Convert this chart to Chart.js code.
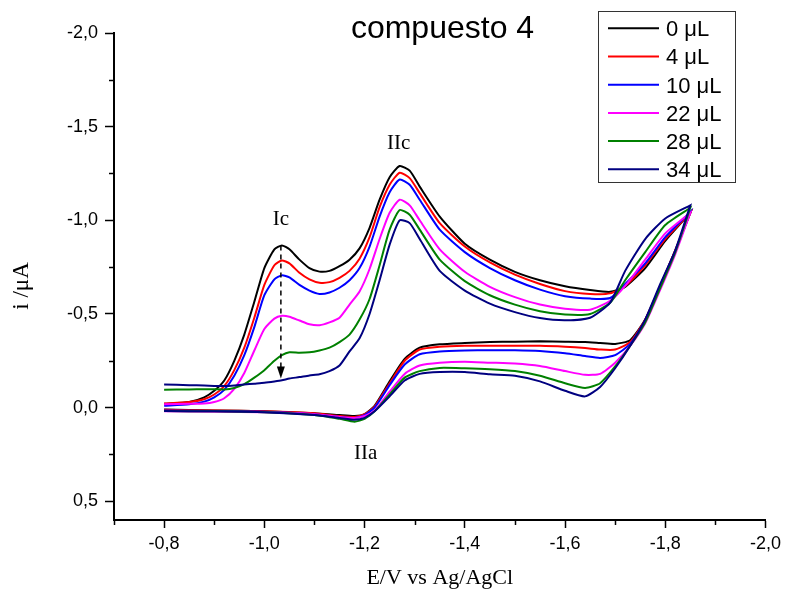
<!DOCTYPE html>
<html>
<head>
<meta charset="utf-8">
<script src="https://cdn.jsdelivr.net/npm/chart.js@4.4.1/dist/chart.umd.min.js"></script>
<style>
  html, body { margin: 0; padding: 0; background: #fff; }
  canvas { display: block; }
</style>
</head>
<body>
<canvas id="cvChart" width="786" height="593"></canvas>
<script>
// potentials (V) of the forward (cathodic) and reverse sweeps
const fwdE = [-0.80, -0.85, -0.88, -0.90, -0.92, -0.94, -0.96, -0.98, -1.00, -1.02, -1.035, -1.05, -1.07, -1.09, -1.11, -1.13, -1.15, -1.17, -1.19, -1.21, -1.23, -1.25, -1.27, -1.29, -1.31, -1.35, -1.40, -1.45, -1.50, -1.55, -1.60, -1.65, -1.69, -1.72, -1.76, -1.80, -1.85];
const revE = [-1.85, -1.82, -1.79, -1.76, -1.73, -1.70, -1.67, -1.64, -1.60, -1.55, -1.50, -1.45, -1.40, -1.35, -1.31, -1.28, -1.25, -1.22, -1.20, -1.18, -1.15, -1.10, -1.00, -0.90, -0.80];

// currents (uA), forward sweep
const fwd0  = [-0.02, -0.03, -0.055, -0.09, -0.145, -0.25, -0.39, -0.565, -0.745, -0.845, -0.866, -0.845, -0.79, -0.745, -0.726, -0.73, -0.755, -0.79, -0.85, -0.96, -1.11, -1.23, -1.29, -1.265, -1.18, -1.02, -0.875, -0.79, -0.725, -0.68, -0.648, -0.628, -0.618, -0.645, -0.745, -0.89, -1.04];
const fwd4  = [-0.022, -0.03, -0.045, -0.07, -0.115, -0.2, -0.32, -0.48, -0.655, -0.76, -0.786, -0.77, -0.72, -0.685, -0.667, -0.67, -0.693, -0.73, -0.795, -0.91, -1.07, -1.19, -1.254, -1.225, -1.145, -0.985, -0.86, -0.775, -0.71, -0.66, -0.622, -0.607, -0.61, -0.65, -0.76, -0.9, -1.04];
const fwd10 = [-0.01, -0.018, -0.032, -0.055, -0.095, -0.17, -0.28, -0.43, -0.6, -0.685, -0.706, -0.695, -0.655, -0.625, -0.607, -0.615, -0.64, -0.68, -0.745, -0.86, -1.02, -1.15, -1.218, -1.19, -1.11, -0.95, -0.83, -0.745, -0.68, -0.63, -0.595, -0.582, -0.585, -0.66, -0.77, -0.91, -1.045];
const fwd22 = [-0.018, -0.02, -0.022, -0.03, -0.05, -0.1, -0.185, -0.305, -0.42, -0.475, -0.49, -0.485, -0.465, -0.445, -0.44, -0.455, -0.48, -0.55, -0.62, -0.74, -0.9, -1.04, -1.11, -1.08, -1.0, -0.845, -0.725, -0.645, -0.59, -0.55, -0.528, -0.523, -0.57, -0.65, -0.79, -0.93, -1.04];
const fwd28 = [-0.096, -0.097, -0.098, -0.098, -0.097, -0.105, -0.125, -0.16, -0.2, -0.25, -0.28, -0.295, -0.293, -0.295, -0.305, -0.32, -0.35, -0.39, -0.47, -0.58, -0.76, -0.95, -1.055, -1.03, -0.95, -0.79, -0.675, -0.6, -0.55, -0.515, -0.497, -0.5, -0.56, -0.68, -0.83, -0.975, -1.067];
const fwd34 = [-0.124, -0.12, -0.118, -0.116, -0.115, -0.118, -0.123, -0.128, -0.133, -0.14, -0.146, -0.155, -0.163, -0.172, -0.178, -0.195, -0.225, -0.3, -0.37, -0.5, -0.68, -0.87, -1.0, -0.985, -0.9, -0.73, -0.625, -0.555, -0.51, -0.478, -0.466, -0.48, -0.56, -0.73, -0.9, -1.01, -1.08];

// currents (uA), reverse sweep
const rev0  = [-1.04, -0.84, -0.65, -0.47, -0.36, -0.34, -0.345, -0.35, -0.352, -0.354, -0.352, -0.35, -0.345, -0.338, -0.32, -0.26, -0.14, -0.01, 0.035, 0.045, 0.04, 0.03, 0.02, 0.015, 0.01];
const rev4  = [-1.04, -0.84, -0.65, -0.47, -0.35, -0.31, -0.31, -0.318, -0.325, -0.33, -0.33, -0.33, -0.33, -0.325, -0.31, -0.25, -0.13, -0.005, 0.035, 0.05, 0.045, 0.03, 0.02, 0.015, 0.012];
const rev10 = [-1.045, -0.83, -0.645, -0.465, -0.34, -0.28, -0.265, -0.275, -0.29, -0.302, -0.306, -0.306, -0.305, -0.3, -0.285, -0.23, -0.12, 0.0, 0.04, 0.055, 0.05, 0.035, 0.022, 0.018, 0.015];
const rev22 = [-1.04, -0.82, -0.63, -0.45, -0.33, -0.24, -0.18, -0.175, -0.195, -0.222, -0.235, -0.24, -0.245, -0.24, -0.225, -0.18, -0.085, 0.015, 0.045, 0.055, 0.05, 0.035, 0.025, 0.022, 0.02];
const rev28 = [-1.067, -0.83, -0.64, -0.455, -0.33, -0.22, -0.13, -0.105, -0.13, -0.17, -0.195, -0.205, -0.21, -0.212, -0.195, -0.16, -0.07, 0.02, 0.06, 0.075, 0.06, 0.04, 0.025, 0.02, 0.018];
const rev34 = [-1.08, -0.84, -0.66, -0.47, -0.33, -0.21, -0.11, -0.06, -0.09, -0.14, -0.17, -0.178, -0.19, -0.19, -0.18, -0.145, -0.06, 0.02, 0.055, 0.065, 0.055, 0.04, 0.025, 0.02, 0.018];

const seriesNames = ['0 μL', '4 μL', '10 μL', '22 μL', '28 μL', '34 μL'];
const seriesColors = ['#000000', '#ff0000', '#0000ff', '#ff00ff', '#008000', '#000080'];
const fwdSets = [fwd0, fwd4, fwd10, fwd22, fwd28, fwd34];
const revSets = [rev0, rev4, rev10, rev22, rev28, rev34];

const xTicks = [-0.8, -1.0, -1.2, -1.4, -1.6, -1.8, -2.0];
const xMinor = [-0.7, -0.9, -1.1, -1.3, -1.5, -1.7, -1.9];
const yTicks = [-2.0, -1.5, -1.0, -0.5, 0.0, 0.5];
const yMinor = [-1.75, -1.25, -0.75, -0.25, 0.25];

// peak labels and the arrow (data coordinates)
const peakLabels = [
  { text: 'Ic', x: -1.033, y: -1.01 },
  { text: 'IIc', x: -1.268, y: -1.416 },
  { text: 'IIa', x: -1.202, y: 0.238 }
];
const arrowX = -1.033, arrowFrom = -0.866, arrowTo = -0.155;

const fmt = v => v.toFixed(1).replace('.', ',');
const sans = "'Liberation Sans', Arial, sans-serif";
const serif = "'Liberation Serif', 'Times New Roman', serif";

const datasets = seriesNames.map((name, k) => {
  const pts = fwdE.map((e, i) => ({ x: e, y: fwdSets[k][i] }))
    .concat(revE.map((e, i) => ({ x: e, y: revSets[k][i] })));
  return {
    label: name,
    data: pts,
    borderColor: seriesColors[k],
    backgroundColor: seriesColors[k],
    borderWidth: 2,
    pointRadius: 0,
    showLine: true,
    tension: 0.2,
    order: seriesNames.length - k
  };
});

const extras = {
  id: 'extras',
  afterDraw(chart) {
    const ctx = chart.ctx;
    const xs = chart.scales.x, ys = chart.scales.y;
    const area = chart.chartArea;
    ctx.save();

    // minor ticks
    ctx.strokeStyle = '#000';
    ctx.lineWidth = 1.5;
    xMinor.forEach(v => {
      const px = Math.round(xs.getPixelForValue(v)) + 0.5;
      ctx.beginPath(); ctx.moveTo(px, area.bottom); ctx.lineTo(px, area.bottom + 5); ctx.stroke();
    });
    yMinor.forEach(v => {
      const py = Math.round(ys.getPixelForValue(v)) + 0.5;
      ctx.beginPath(); ctx.moveTo(area.left - 5, py); ctx.lineTo(area.left, py); ctx.stroke();
    });

    // title
    ctx.fillStyle = '#000';
    ctx.font = '32px ' + sans;
    ctx.textAlign = 'center';
    ctx.textBaseline = 'alphabetic';
    ctx.fillText('compuesto 4', 442.5, 37.5);

    // y axis title
    ctx.save();
    ctx.translate(28, 286);
    ctx.rotate(-Math.PI / 2);
    ctx.font = '23px ' + serif;
    ctx.fillText('i /μA', 0, 0);
    ctx.restore();

    // peak labels
    ctx.font = '21px ' + serif;
    peakLabels.forEach(p => {
      ctx.fillText(p.text, xs.getPixelForValue(p.x), ys.getPixelForValue(p.y) + 7);
    });

    // dashed arrow
    const ax = xs.getPixelForValue(arrowX);
    const y0 = ys.getPixelForValue(arrowFrom), y1 = ys.getPixelForValue(arrowTo);
    ctx.setLineDash([5, 4]);
    ctx.lineWidth = 1.5;
    ctx.beginPath(); ctx.moveTo(ax, y0); ctx.lineTo(ax, y1 - 11); ctx.stroke();
    ctx.setLineDash([]);
    ctx.beginPath();
    ctx.moveTo(ax - 4, y1 - 12); ctx.lineTo(ax + 4, y1 - 12); ctx.lineTo(ax, y1);
    ctx.closePath(); ctx.fill();

    // legend box
    const bx = 598, by = 11, bw = 137, bh = 171;
    ctx.lineWidth = 1;
    ctx.strokeStyle = '#333';
    ctx.strokeRect(bx + 0.5, by + 0.5, bw, bh);
    ctx.font = '22px ' + sans;
    ctx.textAlign = 'left';
    seriesNames.forEach((name, k) => {
      const ly = 28.3 + k * 28.2;
      ctx.strokeStyle = seriesColors[k];
      ctx.lineWidth = 2;
      ctx.beginPath(); ctx.moveTo(608, ly); ctx.lineTo(659, ly); ctx.stroke();
      ctx.fillStyle = '#000';
      ctx.fillText(name, 666, ly + 7.8);
    });
    ctx.restore();
  }
};

new Chart(document.getElementById('cvChart'), {
  type: 'scatter',
  data: { datasets },
  options: {
    responsive: false,
    animation: false,
    devicePixelRatio: 1,
    layout: { padding: { left: 3, top: 33, right: 20, bottom: 0 } },
    plugins: {
      legend: { display: false },
      tooltip: { enabled: false }
    },
    scales: {
      x: {
        type: 'linear',
        min: -2.0,
        max: -0.7,
        reverse: true,
        afterBuildTicks: s => { s.ticks = xTicks.map(v => ({ value: v })); },
        afterFit: s => { s.height = 73; },
        grid: { drawOnChartArea: false, tickLength: 8, tickColor: '#000', tickWidth: 1.5 },
        border: { color: '#000', width: 2 },
        ticks: { color: '#000', font: { family: sans, size: 18 }, padding: 5, maxRotation: 0, callback: v => fmt(v) },
        title: { display: true, text: 'E/V vs Ag/AgCl', color: '#000', font: { family: serif, size: 22 }, padding: { top: 4, bottom: 2 } }
      },
      y: {
        type: 'linear',
        min: -2.0,
        max: 0.6,
        reverse: true,
        afterBuildTicks: s => { s.ticks = yTicks.map(v => ({ value: v })); },
        afterFit: s => { s.width = 111; },
        grid: { drawOnChartArea: false, tickLength: 9, tickColor: '#000', tickWidth: 1.5 },
        border: { color: '#000', width: 2 },
        ticks: { color: '#000', font: { family: sans, size: 18 }, padding: 7, callback: v => fmt(v) }
      }
    }
  },
  plugins: [extras]
});
</script>
</body>
</html>
